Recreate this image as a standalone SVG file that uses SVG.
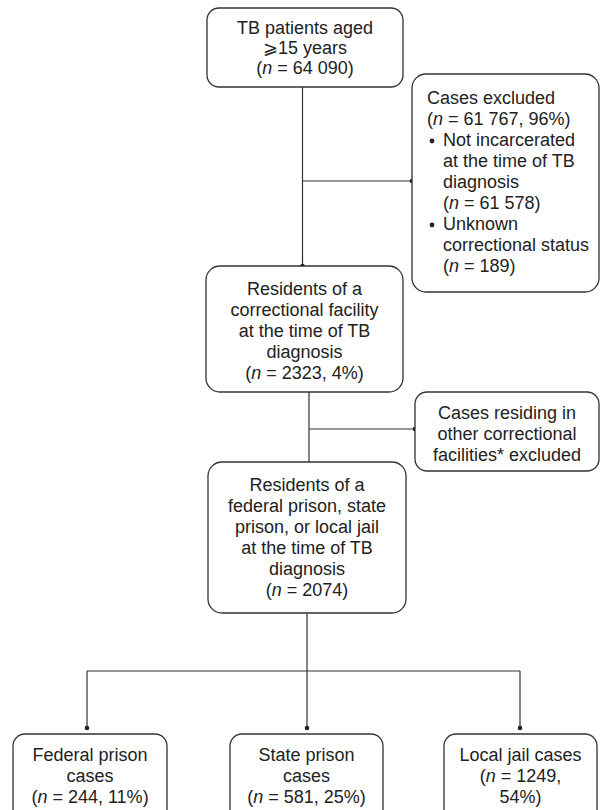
<svg xmlns="http://www.w3.org/2000/svg" width="600" height="810" viewBox="0 0 600 810">
<style>
.box{fill:#fff;stroke:#333;stroke-width:1.3}
.ln{fill:none;stroke:#333;stroke-width:1.2}
.dot{fill:#222}
text{font-family:"Liberation Sans",Arial,sans-serif;font-size:18px;fill:#222}
.c{text-anchor:middle}
.i{font-style:italic}
</style>
<rect width="600" height="810" fill="#fff"/>
<g id="connectors">
<path class="ln" d="M302.5 87 V266 M302.5 181 H412"/>
<path class="ln" d="M309 392 V462 M309 429 H415"/>
<path class="ln" d="M307 613 V728 M87 671 H520 M87 671 V728 M520 671 V728"/>
<circle class="dot" cx="302.5" cy="266" r="2.3"/>
<circle class="dot" cx="412" cy="181" r="2.3"/>
<circle class="dot" cx="415" cy="429" r="2.3"/>
<circle class="dot" cx="87" cy="728" r="2.3"/>
<circle class="dot" cx="307" cy="728" r="2.3"/>
<circle class="dot" cx="520" cy="728" r="2.3"/>
</g>
<g id="n-total">
<rect class="box" x="207" y="8" width="196" height="79" rx="12"/>
<text class="c" x="305" y="34">TB patients aged</text>
<text class="c" x="305" y="54">⩾15 years</text>
<text class="c" x="305" y="74">(<tspan class="i">n</tspan> = 64 090)</text>
</g>
<g id="n-excluded">
<rect class="box" x="412" y="74" width="187" height="218" rx="14"/>
<text x="427" y="104">Cases excluded</text>
<text x="427" y="125">(<tspan class="i">n</tspan> = 61 767, 96%)</text>
<circle class="dot" cx="432" cy="141" r="2.4"/>
<text x="443" y="146">Not incarcerated</text>
<text x="443" y="167">at the time of TB</text>
<text x="443" y="188">diagnosis</text>
<text x="443" y="209">(<tspan class="i">n</tspan> = 61 578)</text>
<circle class="dot" cx="432" cy="225" r="2.4"/>
<text x="443" y="230">Unknown</text>
<text x="443" y="251">correctional status</text>
<text x="443" y="272">(<tspan class="i">n</tspan> = 189)</text>
</g>
<g id="n-correctional">
<rect class="box" x="206" y="266" width="197" height="126" rx="14"/>
<text class="c" x="304.5" y="295">Residents of a</text>
<text class="c" x="304.5" y="316">correctional facility</text>
<text class="c" x="304.5" y="337">at the time of TB</text>
<text class="c" x="304.5" y="358">diagnosis</text>
<text class="c" x="304.5" y="379">(<tspan class="i">n</tspan> = 2323, 4%)</text>
</g>
<g id="n-other">
<rect class="box" x="415" y="392" width="184" height="79" rx="12"/>
<text class="c" x="507" y="419">Cases residing in</text>
<text class="c" x="507" y="440">other correctional</text>
<text class="c" x="507" y="461">facilities* excluded</text>
</g>
<g id="n-prisonjail">
<rect class="box" x="208" y="462" width="198" height="151" rx="14"/>
<text class="c" x="307" y="491">Residents of a</text>
<text class="c" x="307" y="512">federal prison, state</text>
<text class="c" x="307" y="533">prison, or local jail</text>
<text class="c" x="307" y="554">at the time of TB</text>
<text class="c" x="307" y="575">diagnosis</text>
<text class="c" x="307" y="596">(<tspan class="i">n</tspan> = 2074)</text>
</g>
<g id="n-federal">
<rect class="box" x="13" y="734" width="154" height="100" rx="12"/>
<text class="c" x="90" y="761">Federal prison</text>
<text class="c" x="90" y="782">cases</text>
<text class="c" x="90" y="803">(<tspan class="i">n</tspan> = 244, 11%)</text>
</g>
<g id="n-state">
<rect class="box" x="230" y="734" width="153" height="100" rx="12"/>
<text class="c" x="306.5" y="761">State prison</text>
<text class="c" x="306.5" y="782">cases</text>
<text class="c" x="306.5" y="803">(<tspan class="i">n</tspan> = 581, 25%)</text>
</g>
<g id="n-local">
<rect class="box" x="444" y="734" width="153" height="100" rx="12"/>
<text class="c" x="520.5" y="761">Local jail cases</text>
<text class="c" x="520.5" y="782">(<tspan class="i">n</tspan> = 1249,</text>
<text class="c" x="520.5" y="803">54%)</text>
</g>
</svg>
